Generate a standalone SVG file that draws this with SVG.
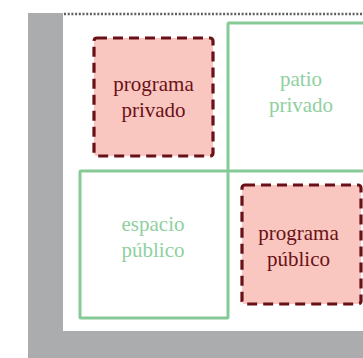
<svg xmlns="http://www.w3.org/2000/svg" width="363" height="358" viewBox="0 0 363 358">
<style>
.prog{fill:#f9c6c0;stroke:#6a1117;stroke-width:3.2;stroke-dasharray:10 6;}
.zone{fill:none;stroke:#86ca97;stroke-width:3;}
text{font-family:'Liberation Serif','Times New Roman',serif;font-size:21px;text-anchor:middle;}
.tp{fill:#6a1117;}
.tz{fill:#8fd0a0;}
</style>
<rect x="0" y="0" width="363" height="358" fill="#ffffff"/>
<rect id="site" x="28" y="13" width="340" height="350" fill="#abacae"/>
<rect id="plot" x="63" y="13" width="305" height="318" fill="#ffffff"/>
<line x1="64" y1="14" x2="363" y2="14" stroke="#5f6062" stroke-width="2.5" stroke-dasharray="2 1.7"/>
<g id="patio-privado">
<rect class="zone" x="228" y="23" width="150" height="148" rx="1"/>
<text class="tz" x="301" y="86">patio</text>
<text class="tz" x="301" y="112">privado</text>
</g>
<g id="espacio-publico">
<rect class="zone" x="80" y="171" width="148" height="147" rx="1"/>
<text class="tz" x="153" y="230.5">espacio</text>
<text class="tz" x="153" y="257">público</text>
</g>
<g id="programa-privado">
<rect class="prog" x="94" y="38" width="119" height="118" rx="3"/>
<text class="tp" x="153.5" y="90.5">programa</text>
<text class="tp" x="153.5" y="116.5">privado</text>
</g>
<g id="programa-publico">
<rect class="prog" x="242" y="185" width="119" height="119" rx="3"/>
<text class="tp" x="298.5" y="240">programa</text>
<text class="tp" x="298.5" y="266">público</text>
</g>
<g id="connectors"></g>
</svg>
